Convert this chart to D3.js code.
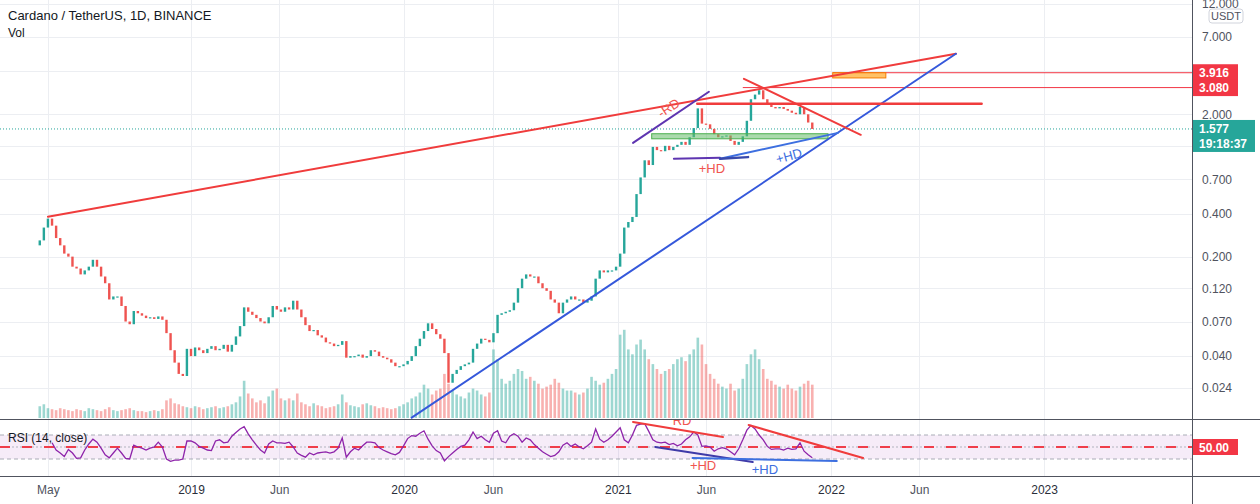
<!DOCTYPE html>
<html><head><meta charset="utf-8">
<script src="https://cdn.jsdelivr.net/npm/d3@7"></script>
<style>
html,body{margin:0;padding:0;background:#fff;}
svg{display:block;font-family:"Liberation Sans",Arial,sans-serif;}
</style></head><body>
<svg id="c" width="1260" height="504"></svg>
<script>
// ---------------- DATA ----------------
const title = "Cardano / TetherUS, 1D, BINANCE";
const startDate = "2018-04-17";   // first candle, one candle per week
const firstOpen = 0.24;
const closes = [
0.26,0.32,0.37,0.33,0.27,0.24,0.21,0.20,0.17,0.165,
0.15,0.16,0.17,0.19,0.17,0.145,0.13,0.10,0.105,0.105,
0.09,0.07,0.067,0.083,0.08,0.077,0.074,0.075,0.073,0.076,
0.072,0.058,0.044,0.036,0.030,0.029,0.045,0.040,0.046,0.044,
0.042,0.045,0.047,0.044,0.045,0.048,0.043,0.048,0.055,0.065,
0.088,0.082,0.078,0.074,0.070,0.068,0.075,0.090,0.085,0.082,
0.088,0.085,0.098,0.085,0.075,0.066,0.060,0.061,0.056,0.054,
0.050,0.049,0.047,0.048,0.051,0.039,0.040,0.040,0.041,0.039,
0.040,0.044,0.043,0.040,0.039,0.038,0.036,0.034,0.034,0.035,
0.037,0.040,0.047,0.053,0.060,0.068,0.062,0.057,0.053,0.042,
0.026,0.030,0.032,0.034,0.035,0.036,0.045,0.049,0.053,0.052,
0.050,0.058,0.078,0.080,0.082,0.084,0.095,0.12,0.14,0.15,
0.145,0.145,0.13,0.12,0.115,0.10,0.095,0.080,0.095,0.10,
0.105,0.10,0.10,0.095,0.098,0.105,0.14,0.16,0.155,0.16,
0.16,0.17,0.21,0.32,0.35,0.38,0.55,0.72,0.95,0.88,
1.18,1.12,1.10,1.20,1.12,1.18,1.22,1.28,1.22,1.38,
1.60,2.20,1.72,1.70,1.58,1.45,1.38,1.40,1.42,1.30,
1.22,1.28,1.40,1.80,2.55,2.75,2.95,2.55,2.35,2.25,
2.20,2.25,2.18,2.12,2.05,2.00,2.25,2.00,1.75,1.577];
const volumes = [
12,14,10,9,8,10,9,8,7,9,
8,7,10,9,8,7,9,11,8,7,
8,9,10,8,7,7,6,7,8,7,
9,18,20,15,14,12,11,10,12,11,
9,10,11,12,10,11,12,14,16,22,
38,25,20,16,18,15,22,28,30,20,
18,20,18,25,16,14,12,15,13,12,
10,11,12,14,24,16,13,12,11,14,
15,13,12,10,11,10,9,10,12,14,
16,20,22,26,34,30,24,28,30,45,
35,28,24,22,20,26,30,28,24,22,
26,70,60,40,35,38,45,50,48,40,
42,38,35,30,32,34,40,36,30,28,
28,26,24,26,30,42,38,34,36,40,
45,50,85,90,70,65,75,80,70,60,
55,50,45,48,50,55,60,62,58,65,
70,82,75,55,45,40,35,32,30,35,
28,30,40,55,65,70,60,50,40,38,
34,32,30,34,30,28,32,35,38,34];
const rsiValues = [
null,null,null,57,45,40,34,46,40,31,
32,45,55,63,58,48,37,32,40,48,
40,31,30,53,50,48,45,48,50,58,
50,30,26,28,28,30,60,60,57,51,
48,45,44,60,62,57,58,68,74,80,
84,72,62,53,45,40,55,60,57,57,
56,58,50,40,36,33,40,37,40,41,
42,40,42,48,65,33,42,48,45,52,
58,58,57,49,45,42,39,37,41,52,
64,69,68,73,77,63,52,44,40,27,
34,40,46,51,53,62,75,64,68,62,
58,73,77,60,57,68,72,68,58,65,
62,54,48,42,38,34,36,42,53,57,
51,55,50,47,52,58,80,63,58,62,
68,75,82,62,57,70,86,88,89,76,
62,58,57,58,54,56,52,55,62,67,
75,70,51,52,50,43,47,49,47,42,
37,47,62,78,86,80,70,62,51,46,
47,47,45,48,46,47,57,43,37,32];
const gridPrices = [12, 7, 4, 2, 1.2, 0.7, 0.4, 0.2, 0.12, 0.07, 0.04, 0.024];
const priceTickLabels = [12, 7, 2, 0.7, 0.4, 0.2, 0.12, 0.07, 0.04, 0.024]; // 4.000 and 1.200 hidden under tags
const timeTicks = ["2018-05-01","2019-01-01","2019-06-01","2020-01-01","2020-06-01","2021-01-01","2021-06-01","2022-01-01","2022-06-01","2023-01-01"];
const timeLabels = ["May","2019","Jun","2020","Jun","2021","Jun","2022","Jun","2023"];
const lastPrice = 1.577;
const countdown = "19:18:37";
const rsiBand = [30, 70];
const rsiMid = 50;

// drawings (date, price)
const redTrend   = [["2018-05-01",0.381],["2022-08-03",5.32]];
const blueTrend  = [["2020-01-14",0.0148],["2022-08-03",5.32]];
const resistance = [["2021-05-17",2.37],["2022-09-16",2.37]];
const descLine   = [["2021-08-05",3.55],["2022-02-21",1.435]];
const rdLine     = [["2021-01-27",1.26],["2021-06-06",2.88]];
const supportLow = [["2021-04-07",0.975],["2021-06-25",0.99]];
const hdShort    = [["2021-06-25",0.975],["2021-08-12",1.0]];
const hdLine     = [["2021-06-25",0.975],["2022-01-13",1.48]];
const greenZone  = [["2021-02-28",1.345],["2021-12-27",1.46]];
const orangeZone = [["2022-01-04",3.60],["2022-04-05",3.916]];
const levels     = [["2022-01-04",3.916],["2021-08-03",3.080]];
const priceNotes = [
  {text:"-RD", at:["2021-03-29",2.22], color:"#f0554f", rot:-33},
  {text:"+HD", at:["2021-06-11",0.828], color:"#f0554f", rot:0},
  {text:"+HD", at:["2021-10-21",1.02], color:"#3d6fe0", rot:-15}
];
// RSI drawings (date, rsi)
const rsiRdA = [["2021-01-27",91.7],["2021-06-30",66.7]];
const rsiRdB = [["2021-08-13",86.7],["2022-02-25",31.7]];
const rsiHdA = [["2021-03-06",50],["2021-08-20",25]];
const rsiHdB = [["2021-05-09",31.7],["2022-01-11",26.7]];
const rsiNotes = [
  {text:"RD", at:["2021-04-21",94], color:"#f0554f"},
  {text:"+HD", at:["2021-05-27",20], color:"#f0554f"},
  {text:"+HD", at:["2021-09-10",11.7], color:"#3d6fe0"}
];

// ---------------- LAYOUT ----------------
const AX = 1192, MAIN_B = 419, RSI_B = 476;
const parse = d3.utcParse("%Y-%m-%d");
const DAY = 864e5, t0 = Date.UTC(2019,0,1), ppd = 0.5839;
const x = d3.scaleUtc()
  .domain([new Date(t0 - 191/ppd*DAY), new Date(t0 + (AX-191)/ppd*DAY)])
  .range([0, AX]);
const y = d3.scaleLog().domain([0.0147, 12.7]).range([418, 0]);
const yv = d3.scaleLinear().domain([0, 100]).range([418, 320]);
const yr = d3.scaleLinear().domain([0, 100]).range([477, 417]);

const svg = d3.select("#c");
const defs = svg.append("defs");
defs.append("clipPath").attr("id","mainClip").append("rect").attr("x",0).attr("y",0).attr("width",AX).attr("height",MAIN_B);
defs.append("clipPath").attr("id","rsiClip").append("rect").attr("x",0).attr("y",MAIN_B+0.5).attr("width",AX).attr("height",RSI_B-MAIN_B-0.5);

svg.append("rect").attr("width",1260).attr("height",504).attr("fill","#fff");

const grid = svg.append("g");
grid.selectAll(".hg").data(gridPrices).enter().append("line")
  .attr("x1",0).attr("x2",AX).attr("y1",d=>Math.round(y(d))+0.5).attr("y2",d=>Math.round(y(d))+0.5)
  .attr("stroke","#eceef2").attr("stroke-width",1);
grid.selectAll(".vg").data(timeTicks).enter().append("line")
  .attr("x1",d=>Math.round(x(parse(d)))+0.5).attr("x2",d=>Math.round(x(parse(d)))+0.5)
  .attr("y1",0).attr("y2",RSI_B)
  .attr("stroke","#eceef2").attr("stroke-width",1);

const candles = closes.map((c,i)=>({
  date: d3.utcDay.offset(parse(startDate), 7*i),
  open: i ? closes[i-1] : firstOpen,
  close: c,
  vol: volumes[i],
  rsi: rsiValues[i]
}));

const main = svg.append("g").attr("clip-path","url(#mainClip)");
// volume
main.append("g").selectAll("rect").data(candles).enter().append("rect")
  .attr("x",d=>x(d.date)-1.3).attr("width",2.6)
  .attr("y",d=>yv(d.vol)).attr("height",d=>yv(0)-yv(d.vol))
  .attr("fill",d=>d.close>=d.open?"rgba(38,166,154,0.45)":"rgba(239,83,80,0.45)");

// dotted last price line
main.append("line").attr("x1",0).attr("x2",AX)
  .attr("y1",y(lastPrice)).attr("y2",y(lastPrice))
  .attr("stroke","#26a69a").attr("stroke-width",1).attr("stroke-dasharray","1,2");

// candles
main.append("g").selectAll("rect").data(candles).enter().append("rect")
  .attr("x",d=>x(d.date)-1.2).attr("width",2.4)
  .attr("y",d=>y(Math.max(d.open,d.close)))
  .attr("height",d=>Math.max(1.2, y(Math.min(d.open,d.close))-y(Math.max(d.open,d.close))))
  .attr("fill",d=>d.close>=d.open?"#26a69a":"#ef5350");

function zone(z, fill, stroke){
  main.append("rect")
    .attr("x",x(parse(z[0][0]))).attr("width",x(parse(z[1][0]))-x(parse(z[0][0])))
    .attr("y",y(z[1][1])).attr("height",y(z[0][1])-y(z[1][1]))
    .attr("fill",fill).attr("stroke",stroke).attr("stroke-width",1);
}
zone(greenZone,"rgba(102,187,106,0.55)","#4caf50");

function seg(g, p, sx, sy, color, w){
  g.append("line")
    .attr("x1",sx(parse(p[0][0]))).attr("y1",sy(p[0][1]))
    .attr("x2",sx(parse(p[1][0]))).attr("y2",sy(p[1][1]))
    .attr("stroke",color).attr("stroke-width",w).attr("stroke-linecap","round");
}
levels.forEach(l=>{
  main.append("line").attr("x1",x(parse(l[0]))).attr("x2",AX)
    .attr("y1",y(l[1])).attr("y2",y(l[1])).attr("stroke","#f23645").attr("stroke-width",1);
});
zone(orangeZone,"rgba(255,183,77,0.85)","#f57c00");
seg(main, redTrend, x, y, "#f03c3c", 2);
seg(main, blueTrend, x, y, "#3558db", 2);
seg(main, resistance, x, y, "#f03c3c", 2.5);
seg(main, descLine, x, y, "#f03c3c", 2);
seg(main, rdLine, x, y, "#5e35b1", 2);
seg(main, supportLow, x, y, "#5e35b1", 2);
seg(main, hdLine, x, y, "#3d6fe0", 2);
seg(main, hdShort, x, y, "#3949ab", 2.5);
priceNotes.forEach(n=>{
  const px = x(parse(n.at[0])), py = y(n.at[1]);
  main.append("text").attr("transform",`translate(${px},${py}) rotate(${n.rot})`)
    .attr("text-anchor","middle").attr("dominant-baseline","central")
    .attr("font-size",13).attr("fill",n.color).text(n.text);
});

// ---------------- RSI ----------------
const rsiG = svg.append("g").attr("clip-path","url(#rsiClip)");
rsiG.append("rect").attr("x",0).attr("width",AX)
  .attr("y",yr(rsiBand[1])).attr("height",yr(rsiBand[0])-yr(rsiBand[1]))
  .attr("fill","rgba(156,39,176,0.09)");
rsiBand.forEach(v=>{
  rsiG.append("line").attr("x1",0).attr("x2",AX).attr("y1",yr(v)).attr("y2",yr(v))
    .attr("stroke","#a9acb6").attr("stroke-width",1).attr("stroke-dasharray","4,3");
});
rsiG.append("line").attr("x1",0).attr("x2",AX).attr("y1",yr(rsiMid)).attr("y2",yr(rsiMid))
  .attr("stroke","#b0b3bd").attr("stroke-width",1).attr("stroke-dasharray","2,2");
rsiG.append("line").attr("x1",0).attr("x2",AX).attr("y1",yr(rsiMid)).attr("y2",yr(rsiMid))
  .attr("stroke","#ef3e4a").attr("stroke-width",2).attr("stroke-dasharray","10,12");
rsiG.append("path").datum(candles)
  .attr("d", d3.line().defined(d=>d.rsi!=null).x(d=>x(d.date)).y(d=>yr(d.rsi)))
  .attr("fill","none").attr("stroke","#8e24aa").attr("stroke-width",1.3);
seg(rsiG, rsiRdA, x, yr, "#f03c3c", 2);
seg(rsiG, rsiRdB, x, yr, "#f03c3c", 2);
seg(rsiG, rsiHdA, x, yr, "#3f3aa8", 2);
seg(rsiG, rsiHdB, x, yr, "#3d6fe0", 2);
rsiNotes.forEach(n=>{
  rsiG.append("text").attr("x",x(parse(n.at[0]))).attr("y",yr(n.at[1]))
    .attr("text-anchor","middle").attr("dominant-baseline","central")
    .attr("font-size",13).attr("fill",n.color).text(n.text);
});
svg.append("text").attr("x",8).attr("y",442).attr("font-size",12).attr("fill","#131722").text("RSI (14, close)");

// ---------------- frames ----------------
svg.append("line").attr("x1",0).attr("x2",1260).attr("y1",MAIN_B+0.5).attr("y2",MAIN_B+0.5).attr("stroke","#50535e");
svg.append("line").attr("x1",0).attr("x2",1260).attr("y1",RSI_B+0.5).attr("y2",RSI_B+0.5).attr("stroke","#50535e");
svg.append("line").attr("x1",AX+0.5).attr("x2",AX+0.5).attr("y1",0).attr("y2",504).attr("stroke","#50535e");

// price axis
const pa = svg.append("g").attr("transform",`translate(${AX},0)`)
  .call(d3.axisRight(y).tickValues(priceTickLabels).tickFormat(d3.format(".3f")).tickSize(0).tickPadding(10));
pa.select(".domain").remove();
pa.selectAll("text").attr("font-size",12).attr("fill","#50535e").attr("font-family","Liberation Sans, Arial, sans-serif");

// time axis
const ta = svg.append("g").attr("transform",`translate(0,${RSI_B})`)
  .call(d3.axisBottom(x).tickValues(timeTicks.map(parse)).tickFormat((d,i)=>timeLabels[i]).tickSize(0).tickPadding(9));
ta.select(".domain").remove();
ta.selectAll("text").attr("font-size",12).attr("font-family","Liberation Sans, Arial, sans-serif")
  .attr("fill",(d,i)=>/^\d/.test(timeLabels[i])?"#2a2e39":"#50535e");

// USDT box
svg.append("rect").attr("x",1209).attr("y",9).attr("width",34).attr("height",14).attr("rx",3)
  .attr("fill","#fff").attr("stroke","#d1d4dc");
svg.append("text").attr("x",1226).attr("y",20).attr("text-anchor","middle").attr("font-size",11).attr("fill","#50535e").text("USDT");

function tag(val, color, txt, w){
  const py = y(val);
  svg.append("rect").attr("x",AX+1).attr("y",py-8.5).attr("width",w).attr("height",17).attr("fill",color);
  svg.append("text").attr("x",AX+7).attr("y",py+4.5).attr("font-size",12).attr("font-weight","bold")
    .attr("fill","#fff").text(txt);
}
tag(levels[0][1], "#f23645", d3.format(".3f")(levels[0][1]), 45);
tag(levels[1][1], "#f23645", d3.format(".3f")(levels[1][1]), 45);
{
  const py = y(lastPrice);
  svg.append("rect").attr("x",AX+1).attr("y",py-9).attr("width",62).attr("height",32).attr("fill","#26a69a");
  svg.append("text").attr("x",AX+7).attr("y",py+4.5).attr("font-size",12).attr("font-weight","bold").attr("fill","#fff").text(d3.format(".3f")(lastPrice));
  svg.append("text").attr("x",AX+7).attr("y",py+19).attr("font-size",12).attr("font-weight","bold").attr("fill","#fff").text(countdown);
}
{
  const py = yr(rsiMid);
  svg.append("rect").attr("x",AX+1).attr("y",py-8).attr("width",45).attr("height",16).attr("fill","#f23645");
  svg.append("text").attr("x",AX+7).attr("y",py+4.5).attr("font-size",12).attr("font-weight","bold").attr("fill","#fff").text(d3.format(".2f")(rsiMid));
}

svg.append("text").attr("x",8).attr("y",20).attr("font-size",13).attr("fill","#131722").text(title);
svg.append("text").attr("x",8).attr("y",37).attr("font-size",12).attr("fill","#131722").text("Vol");
</script>
</body></html>
